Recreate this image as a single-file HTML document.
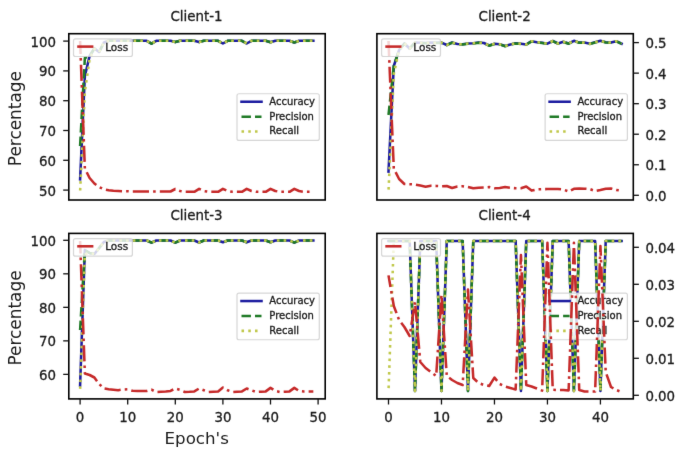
<!DOCTYPE html>
<html><head><meta charset="utf-8"><title>Client metrics</title>
<style>
html,body{margin:0;padding:0;background:#fff;}
body{width:685px;height:454px;overflow:hidden;}
svg{display:block;}
</style></head>
<body>
<svg width="685" height="454" viewBox="0 0 685 454" font-family="'DejaVu Sans', 'Liberation Sans', sans-serif">
<defs>
<filter id="soft" x="0" y="0" width="685" height="454" filterUnits="userSpaceOnUse" color-interpolation-filters="sRGB"><feConvolveMatrix order="3" kernelMatrix="0.00717 0.08466 0.00717 0.08466 1.00000 0.08466 0.00717 0.08466 0.00717" divisor="1.36730" edgeMode="duplicate"/></filter>
<clipPath id="c1"><rect x="68.8" y="33.7" width="256.4" height="166.3"/></clipPath>
<clipPath id="c2"><rect x="376.9" y="33.7" width="256.4" height="166.3"/></clipPath>
<clipPath id="c3"><rect x="68.8" y="233.4" width="256.4" height="165.49999999999997"/></clipPath>
<clipPath id="c4"><rect x="376.9" y="233.4" width="256.4" height="165.49999999999997"/></clipPath>
</defs>
<rect x="0" y="0" width="685" height="454" fill="#ffffff"/>
<g filter="url(#soft)">
<polyline points="80.10,179.30 84.86,76.00 89.62,56.00 94.38,48.50 99.14,52.00 103.90,42.50 108.66,40.80 113.42,40.80 118.18,40.80 122.94,40.80 127.70,40.80 132.46,40.80 137.22,40.80 141.98,40.80 146.74,40.80 151.50,43.70 156.26,40.80 161.02,40.80 165.78,40.80 170.54,40.80 175.30,42.10 180.06,40.80 184.82,40.80 189.58,40.80 194.34,40.80 199.10,42.10 203.86,40.80 208.62,40.80 213.38,40.80 218.14,40.80 222.90,43.50 227.66,40.80 232.42,40.80 237.18,40.80 241.94,40.80 246.70,43.50 251.46,40.80 256.22,40.80 260.98,40.80 265.74,40.80 270.50,42.30 275.26,40.80 280.02,40.80 284.78,40.80 289.54,40.80 294.30,42.50 299.06,40.80 303.82,40.80 308.58,40.80 313.34,40.80" fill="none" stroke="#1c1ca0" stroke-width="2.55" stroke-linejoin="round" stroke-linecap="square" clip-path="url(#c1)"/>
<polyline points="80.10,146.00 84.86,58.00 89.62,56.00 94.38,48.50 99.14,52.00 103.90,42.50 108.66,40.80 113.42,40.80 118.18,40.80 122.94,40.80 127.70,40.80 132.46,40.80 137.22,40.80 141.98,40.80 146.74,40.80 151.50,43.70 156.26,40.80 161.02,40.80 165.78,40.80 170.54,40.80 175.30,42.10 180.06,40.80 184.82,40.80 189.58,40.80 194.34,40.80 199.10,42.10 203.86,40.80 208.62,40.80 213.38,40.80 218.14,40.80 222.90,43.50 227.66,40.80 232.42,40.80 237.18,40.80 241.94,40.80 246.70,43.50 251.46,40.80 256.22,40.80 260.98,40.80 265.74,40.80 270.50,42.30 275.26,40.80 280.02,40.80 284.78,40.80 289.54,40.80 294.30,42.50 299.06,40.80 303.82,40.80 308.58,40.80 313.34,40.80" fill="none" stroke="#1f7a26" stroke-width="2.55" stroke-linejoin="round" stroke-linecap="butt" stroke-dasharray="9.435 4.08" clip-path="url(#c1)"/>
<polyline points="80.10,191.50 84.86,92.00 89.62,59.00 94.38,49.00 99.14,52.00 103.90,42.50 108.66,40.80 113.42,40.80 118.18,40.80 122.94,40.80 127.70,40.80 132.46,40.80 137.22,40.80 141.98,40.80 146.74,40.80 151.50,43.70 156.26,40.80 161.02,40.80 165.78,40.80 170.54,40.80 175.30,42.10 180.06,40.80 184.82,40.80 189.58,40.80 194.34,40.80 199.10,42.10 203.86,40.80 208.62,40.80 213.38,40.80 218.14,40.80 222.90,43.50 227.66,40.80 232.42,40.80 237.18,40.80 241.94,40.80 246.70,43.50 251.46,40.80 256.22,40.80 260.98,40.80 265.74,40.80 270.50,42.30 275.26,40.80 280.02,40.80 284.78,40.80 289.54,40.80 294.30,42.50 299.06,40.80 303.82,40.80 308.58,40.80 313.34,40.80" fill="none" stroke="#c0c84a" stroke-width="2.55" stroke-linejoin="round" stroke-linecap="butt" stroke-dasharray="2.55 4.2075" clip-path="url(#c1)" stroke-dashoffset="5.729"/>
<rect x="237.00" y="93.75" width="82.30" height="46.70" rx="2" ry="2" fill="#ffffff" fill-opacity="0.8" stroke="#cccccc" stroke-opacity="0.8" stroke-width="1.2"/>
<line x1="241.50" y1="101.75" x2="261.50" y2="101.75" stroke="#1c1ca0" stroke-width="2.55" stroke-linecap="square"/>
<line x1="241.50" y1="116.65" x2="261.50" y2="116.65" stroke="#1f7a26" stroke-width="2.55" stroke-dasharray="9.435 4.08"/>
<line x1="241.50" y1="131.55" x2="261.50" y2="131.55" stroke="#c0c84a" stroke-width="2.55" stroke-dasharray="2.55 4.2075"/>
<text x="269.30" y="104.65" font-size="10" text-anchor="start" fill="#1a1a1a" stroke="#1a1a1a" stroke-width="0.3">Accuracy</text>
<text x="269.30" y="119.55" font-size="10" text-anchor="start" fill="#1a1a1a" stroke="#1a1a1a" stroke-width="0.3">Precision</text>
<text x="269.30" y="134.45" font-size="10" text-anchor="start" fill="#1a1a1a" stroke="#1a1a1a" stroke-width="0.3">Recall</text>
<polyline points="80.10,41.00 84.86,168.60 89.62,178.00 94.38,183.50 99.14,187.00 103.90,189.30 108.66,190.30 113.42,190.80 118.18,191.00 122.94,191.20 127.70,191.20 132.46,191.50 137.22,191.50 141.98,191.50 146.74,191.50 151.50,191.50 156.26,191.50 161.02,191.50 165.78,191.50 170.54,191.50 175.30,189.00 180.06,191.00 184.82,191.80 189.58,191.80 194.34,191.80 199.10,188.80 203.86,191.00 208.62,191.80 213.38,191.80 218.14,191.80 222.90,188.80 227.66,191.00 232.42,191.80 237.18,191.80 241.94,191.80 246.70,188.80 251.46,191.00 256.22,191.80 260.98,191.80 265.74,191.80 270.50,188.80 275.26,191.00 280.02,191.80 284.78,191.80 289.54,191.80 294.30,188.80 299.06,191.00 303.82,191.80 308.58,191.80 313.34,191.80" fill="none" stroke="#c62a2a" stroke-width="2.55" stroke-linejoin="round" stroke-linecap="butt" stroke-dasharray="16.2 4.1 2.6 4.1" clip-path="url(#c1)" stroke-dashoffset="3.25"/>
<rect x="73.50" y="38.90" width="58.90" height="17.60" rx="2" ry="2" fill="#ffffff" fill-opacity="0.8" stroke="#cccccc" stroke-opacity="0.8" stroke-width="1.2"/>
<line x1="77.20" y1="46.60" x2="97.20" y2="46.60" stroke="#c62a2a" stroke-width="2.55" stroke-dasharray="16.2 4.1 2.6 4.1"/>
<text x="105.20" y="50.50" font-size="10.5" text-anchor="start" fill="#1a1a1a" stroke="#1a1a1a" stroke-width="0.3">Loss</text>
<rect x="68.80" y="33.70" width="256.40" height="166.30" fill="none" stroke="#000" stroke-width="1.6"/>
<polyline points="388.50,171.60 393.80,66.00 399.10,50.00 404.39,43.50 409.69,48.50 414.99,42.50 420.29,42.80 425.59,43.00 430.88,42.60 436.18,42.80 441.48,42.60 446.78,45.00 452.08,42.50 457.37,44.00 462.67,44.30 467.97,43.50 473.27,43.20 478.57,42.60 483.86,43.00 489.16,45.50 494.46,43.80 499.76,44.20 505.06,46.00 510.35,44.50 515.65,43.20 520.95,43.70 526.25,44.50 531.55,41.20 536.84,42.20 542.14,42.80 547.44,43.70 552.74,41.00 558.04,43.50 563.33,41.80 568.63,43.50 573.93,40.80 579.23,42.60 584.53,42.60 589.82,43.70 595.12,42.30 600.42,40.80 605.72,42.20 611.02,42.60 616.31,41.20 621.61,43.70" fill="none" stroke="#1c1ca0" stroke-width="2.55" stroke-linejoin="round" stroke-linecap="square" clip-path="url(#c2)"/>
<polyline points="388.50,115.00 393.80,66.00 399.10,50.20 404.39,43.70 409.69,48.70 414.99,42.70 420.29,43.00 425.59,43.20 430.88,42.80 436.18,43.00 441.48,42.80 446.78,45.20 452.08,42.70 457.37,44.20 462.67,44.50 467.97,43.70 473.27,43.40 478.57,42.80 483.86,43.20 489.16,45.70 494.46,44.00 499.76,44.40 505.06,46.20 510.35,44.70 515.65,43.40 520.95,43.90 526.25,44.70 531.55,41.40 536.84,42.40 542.14,43.00 547.44,43.90 552.74,41.20 558.04,43.70 563.33,42.00 568.63,43.70 573.93,41.00 579.23,42.80 584.53,42.80 589.82,43.90 595.12,42.50 600.42,41.00 605.72,42.40 611.02,42.80 616.31,41.40 621.61,43.90" fill="none" stroke="#1f7a26" stroke-width="2.55" stroke-linejoin="round" stroke-linecap="butt" stroke-dasharray="9.435 4.08" clip-path="url(#c2)"/>
<polyline points="388.50,191.00 393.80,74.00 399.10,50.00 404.39,43.50 409.69,48.50 414.99,42.50 420.29,42.80 425.59,43.00 430.88,42.60 436.18,42.80 441.48,42.60 446.78,45.00 452.08,42.50 457.37,44.00 462.67,44.30 467.97,43.50 473.27,43.20 478.57,42.60 483.86,43.00 489.16,45.50 494.46,43.80 499.76,44.20 505.06,46.00 510.35,44.50 515.65,43.20 520.95,43.70 526.25,44.50 531.55,41.20 536.84,42.20 542.14,42.80 547.44,43.70 552.74,41.00 558.04,43.50 563.33,41.80 568.63,43.50 573.93,40.80 579.23,42.60 584.53,42.60 589.82,43.70 595.12,42.30 600.42,40.80 605.72,42.20 611.02,42.60 616.31,41.20 621.61,43.70" fill="none" stroke="#c0c84a" stroke-width="2.55" stroke-linejoin="round" stroke-linecap="butt" stroke-dasharray="2.55 4.2075" clip-path="url(#c2)" stroke-dashoffset="5.342"/>
<rect x="545.10" y="93.75" width="82.30" height="46.70" rx="2" ry="2" fill="#ffffff" fill-opacity="0.8" stroke="#cccccc" stroke-opacity="0.8" stroke-width="1.2"/>
<line x1="549.60" y1="101.75" x2="569.60" y2="101.75" stroke="#1c1ca0" stroke-width="2.55" stroke-linecap="square"/>
<line x1="549.60" y1="116.65" x2="569.60" y2="116.65" stroke="#1f7a26" stroke-width="2.55" stroke-dasharray="9.435 4.08"/>
<line x1="549.60" y1="131.55" x2="569.60" y2="131.55" stroke="#c0c84a" stroke-width="2.55" stroke-dasharray="2.55 4.2075"/>
<text x="577.40" y="104.65" font-size="10" text-anchor="start" fill="#1a1a1a" stroke="#1a1a1a" stroke-width="0.3">Accuracy</text>
<text x="577.40" y="119.55" font-size="10" text-anchor="start" fill="#1a1a1a" stroke="#1a1a1a" stroke-width="0.3">Precision</text>
<text x="577.40" y="134.45" font-size="10" text-anchor="start" fill="#1a1a1a" stroke="#1a1a1a" stroke-width="0.3">Recall</text>
<polyline points="388.50,41.00 393.80,168.70 399.10,179.00 404.39,184.00 409.69,184.20 414.99,184.50 420.29,185.50 425.59,186.70 430.88,185.70 436.18,185.90 441.48,186.20 446.78,186.00 452.08,188.00 457.37,186.50 462.67,186.20 467.97,187.00 473.27,188.30 478.57,187.70 483.86,187.50 489.16,187.10 494.46,188.30 499.76,188.00 505.06,187.10 510.35,187.80 515.65,188.30 520.95,188.30 526.25,186.50 531.55,190.60 536.84,189.40 542.14,189.20 547.44,189.10 552.74,189.00 558.04,189.10 563.33,189.50 568.63,191.50 573.93,188.80 579.23,188.50 584.53,188.70 589.82,189.10 595.12,191.00 600.42,190.00 605.72,188.70 611.02,188.50 616.31,190.00 621.61,190.50" fill="none" stroke="#c62a2a" stroke-width="2.55" stroke-linejoin="round" stroke-linecap="butt" stroke-dasharray="15.9 4 2.6 4" clip-path="url(#c2)" stroke-dashoffset="0.75"/>
<rect x="381.60" y="38.90" width="58.90" height="17.60" rx="2" ry="2" fill="#ffffff" fill-opacity="0.8" stroke="#cccccc" stroke-opacity="0.8" stroke-width="1.2"/>
<line x1="385.30" y1="46.60" x2="405.30" y2="46.60" stroke="#c62a2a" stroke-width="2.55" stroke-dasharray="16.2 4.1 2.6 4.1"/>
<text x="413.30" y="50.50" font-size="10.5" text-anchor="start" fill="#1a1a1a" stroke="#1a1a1a" stroke-width="0.3">Loss</text>
<rect x="376.90" y="33.70" width="256.40" height="166.30" fill="none" stroke="#000" stroke-width="1.6"/>
<polyline points="80.10,385.40 84.86,250.00 89.62,253.00 94.38,254.00 99.14,248.00 103.90,242.00 108.66,240.50 113.42,240.50 118.18,240.50 122.94,240.50 127.70,240.50 132.46,240.50 137.22,240.50 141.98,240.50 146.74,240.50 151.50,242.70 156.26,240.50 161.02,240.50 165.78,240.50 170.54,240.50 175.30,242.70 180.06,240.50 184.82,240.50 189.58,240.50 194.34,240.50 199.10,242.50 203.86,240.50 208.62,240.50 213.38,240.50 218.14,240.50 222.90,242.30 227.66,240.50 232.42,240.50 237.18,240.50 241.94,240.50 246.70,242.20 251.46,240.50 256.22,240.50 260.98,240.50 265.74,240.50 270.50,242.30 275.26,240.50 280.02,240.50 284.78,240.50 289.54,240.50 294.30,242.60 299.06,240.50 303.82,240.50 308.58,240.50 313.34,240.50" fill="none" stroke="#1c1ca0" stroke-width="2.55" stroke-linejoin="round" stroke-linecap="square" clip-path="url(#c3)"/>
<polyline points="80.10,330.00 84.86,250.00 89.62,253.00 94.38,254.00 99.14,248.00 103.90,242.00 108.66,240.50 113.42,240.50 118.18,240.50 122.94,240.50 127.70,240.50 132.46,240.50 137.22,240.50 141.98,240.50 146.74,240.50 151.50,242.70 156.26,240.50 161.02,240.50 165.78,240.50 170.54,240.50 175.30,242.70 180.06,240.50 184.82,240.50 189.58,240.50 194.34,240.50 199.10,242.50 203.86,240.50 208.62,240.50 213.38,240.50 218.14,240.50 222.90,242.30 227.66,240.50 232.42,240.50 237.18,240.50 241.94,240.50 246.70,242.20 251.46,240.50 256.22,240.50 260.98,240.50 265.74,240.50 270.50,242.30 275.26,240.50 280.02,240.50 284.78,240.50 289.54,240.50 294.30,242.60 299.06,240.50 303.82,240.50 308.58,240.50 313.34,240.50" fill="none" stroke="#1f7a26" stroke-width="2.55" stroke-linejoin="round" stroke-linecap="butt" stroke-dasharray="9.435 4.08" clip-path="url(#c3)"/>
<polyline points="80.10,390.40 84.86,254.00 89.62,253.00 94.38,254.00 99.14,248.00 103.90,242.00 108.66,240.50 113.42,240.50 118.18,240.50 122.94,240.50 127.70,240.50 132.46,240.50 137.22,240.50 141.98,240.50 146.74,240.50 151.50,242.70 156.26,240.50 161.02,240.50 165.78,240.50 170.54,240.50 175.30,242.70 180.06,240.50 184.82,240.50 189.58,240.50 194.34,240.50 199.10,242.50 203.86,240.50 208.62,240.50 213.38,240.50 218.14,240.50 222.90,242.30 227.66,240.50 232.42,240.50 237.18,240.50 241.94,240.50 246.70,242.20 251.46,240.50 256.22,240.50 260.98,240.50 265.74,240.50 270.50,242.30 275.26,240.50 280.02,240.50 284.78,240.50 289.54,240.50 294.30,242.60 299.06,240.50 303.82,240.50 308.58,240.50 313.34,240.50" fill="none" stroke="#c0c84a" stroke-width="2.55" stroke-linejoin="round" stroke-linecap="butt" stroke-dasharray="2.55 4.2075" clip-path="url(#c3)" stroke-dashoffset="5.239"/>
<rect x="237.00" y="293.05" width="82.30" height="46.70" rx="2" ry="2" fill="#ffffff" fill-opacity="0.8" stroke="#cccccc" stroke-opacity="0.8" stroke-width="1.2"/>
<line x1="241.50" y1="301.05" x2="261.50" y2="301.05" stroke="#1c1ca0" stroke-width="2.55" stroke-linecap="square"/>
<line x1="241.50" y1="315.95" x2="261.50" y2="315.95" stroke="#1f7a26" stroke-width="2.55" stroke-dasharray="9.435 4.08"/>
<line x1="241.50" y1="330.85" x2="261.50" y2="330.85" stroke="#c0c84a" stroke-width="2.55" stroke-dasharray="2.55 4.2075"/>
<text x="269.30" y="303.95" font-size="10" text-anchor="start" fill="#1a1a1a" stroke="#1a1a1a" stroke-width="0.3">Accuracy</text>
<text x="269.30" y="318.85" font-size="10" text-anchor="start" fill="#1a1a1a" stroke="#1a1a1a" stroke-width="0.3">Precision</text>
<text x="269.30" y="333.75" font-size="10" text-anchor="start" fill="#1a1a1a" stroke="#1a1a1a" stroke-width="0.3">Recall</text>
<polyline points="80.10,241.00 84.86,373.50 89.62,375.00 94.38,377.50 99.14,384.00 103.90,388.50 108.66,389.30 113.42,389.80 118.18,390.20 122.94,389.50 127.70,389.30 132.46,390.80 137.22,390.90 141.98,391.00 146.74,391.00 151.50,389.70 156.26,392.00 161.02,391.80 165.78,391.50 170.54,390.90 175.30,388.50 180.06,389.90 184.82,392.00 189.58,391.80 194.34,391.40 199.10,388.50 203.86,390.30 208.62,392.00 213.38,391.70 218.14,391.40 222.90,387.50 227.66,390.30 232.42,392.00 237.18,391.70 241.94,391.40 246.70,388.50 251.46,390.30 256.22,392.00 260.98,391.70 265.74,391.40 270.50,387.90 275.26,390.90 280.02,392.00 284.78,391.70 289.54,391.40 294.30,387.90 299.06,390.90 303.82,391.40 308.58,391.40 313.34,391.40" fill="none" stroke="#c62a2a" stroke-width="2.55" stroke-linejoin="round" stroke-linecap="butt" stroke-dasharray="16.2 4.1 2.6 4.1" clip-path="url(#c3)" stroke-dashoffset="3.75"/>
<rect x="73.50" y="238.60" width="58.90" height="17.60" rx="2" ry="2" fill="#ffffff" fill-opacity="0.8" stroke="#cccccc" stroke-opacity="0.8" stroke-width="1.2"/>
<line x1="77.20" y1="246.30" x2="97.20" y2="246.30" stroke="#c62a2a" stroke-width="2.55" stroke-dasharray="16.2 4.1 2.6 4.1"/>
<text x="105.20" y="250.20" font-size="10.5" text-anchor="start" fill="#1a1a1a" stroke="#1a1a1a" stroke-width="0.3">Loss</text>
<rect x="68.80" y="233.40" width="256.40" height="165.50" fill="none" stroke="#000" stroke-width="1.6"/>
<polyline points="388.50,241.00 393.80,241.00 399.10,241.00 404.39,241.00 409.69,241.00 414.99,391.00 420.29,241.00 425.59,241.00 430.88,241.00 436.18,241.00 441.48,391.00 446.78,241.00 452.08,241.00 457.37,241.00 462.67,241.00 467.97,391.00 473.27,241.00 478.57,241.00 483.86,241.00 489.16,241.00 494.46,241.00 499.76,241.00 505.06,241.00 510.35,241.00 515.65,241.00 520.95,391.00 526.25,241.00 531.55,241.00 536.84,241.00 542.14,241.00 547.44,391.00 552.74,241.00 558.04,241.00 563.33,241.00 568.63,241.00 573.93,391.00 579.23,241.00 584.53,241.00 589.82,241.00 595.12,241.00 600.42,391.00 605.72,241.00 611.02,241.00 616.31,241.00 621.61,241.00" fill="none" stroke="#1c1ca0" stroke-width="2.55" stroke-linejoin="round" stroke-linecap="square" clip-path="url(#c4)"/>
<polyline points="388.50,241.00 393.80,241.00 399.10,241.00 404.39,241.00 409.69,241.00 414.99,391.00 420.29,241.00 425.59,241.00 430.88,241.00 436.18,241.00 441.48,391.00 446.78,241.00 452.08,241.00 457.37,241.00 462.67,241.00 467.97,391.00 473.27,241.00 478.57,241.00 483.86,241.00 489.16,241.00 494.46,241.00 499.76,241.00 505.06,241.00 510.35,241.00 515.65,241.00 520.95,391.00 526.25,241.00 531.55,241.00 536.84,241.00 542.14,241.00 547.44,391.00 552.74,241.00 558.04,241.00 563.33,241.00 568.63,241.00 573.93,391.00 579.23,241.00 584.53,241.00 589.82,241.00 595.12,241.00 600.42,391.00 605.72,241.00 611.02,241.00 616.31,241.00 621.61,241.00" fill="none" stroke="#1f7a26" stroke-width="2.55" stroke-linejoin="round" stroke-linecap="butt" stroke-dasharray="9.435 4.08" clip-path="url(#c4)"/>
<polyline points="388.50,391.00 393.80,241.00 399.10,241.00 404.39,241.00 409.69,241.00 414.99,391.00 420.29,241.00 425.59,241.00 430.88,241.00 436.18,241.00 441.48,391.00 446.78,241.00 452.08,241.00 457.37,241.00 462.67,241.00 467.97,391.00 473.27,241.00 478.57,241.00 483.86,241.00 489.16,241.00 494.46,241.00 499.76,241.00 505.06,241.00 510.35,241.00 515.65,241.00 520.95,391.00 526.25,241.00 531.55,241.00 536.84,241.00 542.14,241.00 547.44,391.00 552.74,241.00 558.04,241.00 563.33,241.00 568.63,241.00 573.93,391.00 579.23,241.00 584.53,241.00 589.82,241.00 595.12,241.00 600.42,391.00 605.72,241.00 611.02,241.00 616.31,241.00 621.61,241.00" fill="none" stroke="#c0c84a" stroke-width="2.55" stroke-linejoin="round" stroke-linecap="butt" stroke-dasharray="2.55 4.2075" clip-path="url(#c4)" stroke-dashoffset="3.869"/>
<rect x="545.10" y="293.05" width="82.30" height="46.70" rx="2" ry="2" fill="#ffffff" fill-opacity="0.8" stroke="#cccccc" stroke-opacity="0.8" stroke-width="1.2"/>
<line x1="549.60" y1="301.05" x2="569.60" y2="301.05" stroke="#1c1ca0" stroke-width="2.55" stroke-linecap="square"/>
<line x1="549.60" y1="315.95" x2="569.60" y2="315.95" stroke="#1f7a26" stroke-width="2.55" stroke-dasharray="9.435 4.08"/>
<line x1="549.60" y1="330.85" x2="569.60" y2="330.85" stroke="#c0c84a" stroke-width="2.55" stroke-dasharray="2.55 4.2075"/>
<text x="577.40" y="303.95" font-size="10" text-anchor="start" fill="#1a1a1a" stroke="#1a1a1a" stroke-width="0.3">Accuracy</text>
<text x="577.40" y="318.85" font-size="10" text-anchor="start" fill="#1a1a1a" stroke="#1a1a1a" stroke-width="0.3">Precision</text>
<text x="577.40" y="333.75" font-size="10" text-anchor="start" fill="#1a1a1a" stroke="#1a1a1a" stroke-width="0.3">Recall</text>
<polyline points="388.50,275.40 393.80,306.00 399.10,320.00 404.39,327.00 409.69,336.00 414.99,302.00 420.29,362.00 425.59,368.00 430.88,372.00 436.18,376.00 441.48,295.00 446.78,376.00 452.08,380.00 457.37,383.00 462.67,385.00 467.97,289.50 473.27,378.00 478.57,383.00 483.86,385.00 489.16,386.00 494.46,377.60 499.76,384.00 505.06,386.50 510.35,388.00 515.65,389.50 520.95,255.00 526.25,385.00 531.55,386.50 536.84,388.50 542.14,390.60 547.44,242.80 552.74,389.80 558.04,390.00 563.33,390.00 568.63,390.50 573.93,242.80 579.23,390.00 584.53,391.50 589.82,391.50 595.12,391.50 600.42,246.00 605.72,372.00 611.02,387.00 616.31,390.00 621.61,392.00" fill="none" stroke="#c62a2a" stroke-width="2.55" stroke-linejoin="round" stroke-linecap="butt" stroke-dasharray="16.2 4.1 2.6 4.1" clip-path="url(#c4)" stroke-dashoffset="4.5"/>
<rect x="381.60" y="238.60" width="58.90" height="17.60" rx="2" ry="2" fill="#ffffff" fill-opacity="0.8" stroke="#cccccc" stroke-opacity="0.8" stroke-width="1.2"/>
<line x1="385.30" y1="246.30" x2="405.30" y2="246.30" stroke="#c62a2a" stroke-width="2.55" stroke-dasharray="16.2 4.1 2.6 4.1"/>
<text x="413.30" y="250.20" font-size="10.5" text-anchor="start" fill="#1a1a1a" stroke="#1a1a1a" stroke-width="0.3">Loss</text>
<rect x="376.90" y="233.40" width="256.40" height="165.50" fill="none" stroke="#000" stroke-width="1.6"/>
<line x1="63.20" y1="41.10" x2="68.80" y2="41.10" stroke="#111" stroke-width="1.3"/>
<text x="55.95" y="46.55" font-size="13.35" text-anchor="end" fill="#1a1a1a" stroke="#1a1a1a" stroke-width="0.3">100</text>
<line x1="63.20" y1="70.90" x2="68.80" y2="70.90" stroke="#111" stroke-width="1.3"/>
<text x="55.95" y="76.35" font-size="13.35" text-anchor="end" fill="#1a1a1a" stroke="#1a1a1a" stroke-width="0.3">90</text>
<line x1="63.20" y1="100.70" x2="68.80" y2="100.70" stroke="#111" stroke-width="1.3"/>
<text x="55.95" y="106.15" font-size="13.35" text-anchor="end" fill="#1a1a1a" stroke="#1a1a1a" stroke-width="0.3">80</text>
<line x1="63.20" y1="130.50" x2="68.80" y2="130.50" stroke="#111" stroke-width="1.3"/>
<text x="55.95" y="135.95" font-size="13.35" text-anchor="end" fill="#1a1a1a" stroke="#1a1a1a" stroke-width="0.3">70</text>
<line x1="63.20" y1="160.30" x2="68.80" y2="160.30" stroke="#111" stroke-width="1.3"/>
<text x="55.95" y="165.75" font-size="13.35" text-anchor="end" fill="#1a1a1a" stroke="#1a1a1a" stroke-width="0.3">60</text>
<line x1="63.20" y1="190.10" x2="68.80" y2="190.10" stroke="#111" stroke-width="1.3"/>
<text x="55.95" y="195.55" font-size="13.35" text-anchor="end" fill="#1a1a1a" stroke="#1a1a1a" stroke-width="0.3">50</text>
<line x1="63.20" y1="240.30" x2="68.80" y2="240.30" stroke="#111" stroke-width="1.3"/>
<text x="55.95" y="245.75" font-size="13.35" text-anchor="end" fill="#1a1a1a" stroke="#1a1a1a" stroke-width="0.3">100</text>
<line x1="63.20" y1="273.82" x2="68.80" y2="273.82" stroke="#111" stroke-width="1.3"/>
<text x="55.95" y="279.27" font-size="13.35" text-anchor="end" fill="#1a1a1a" stroke="#1a1a1a" stroke-width="0.3">90</text>
<line x1="63.20" y1="307.34" x2="68.80" y2="307.34" stroke="#111" stroke-width="1.3"/>
<text x="55.95" y="312.79" font-size="13.35" text-anchor="end" fill="#1a1a1a" stroke="#1a1a1a" stroke-width="0.3">80</text>
<line x1="63.20" y1="340.86" x2="68.80" y2="340.86" stroke="#111" stroke-width="1.3"/>
<text x="55.95" y="346.31" font-size="13.35" text-anchor="end" fill="#1a1a1a" stroke="#1a1a1a" stroke-width="0.3">70</text>
<line x1="63.20" y1="374.38" x2="68.80" y2="374.38" stroke="#111" stroke-width="1.3"/>
<text x="55.95" y="379.83" font-size="13.35" text-anchor="end" fill="#1a1a1a" stroke="#1a1a1a" stroke-width="0.3">60</text>
<line x1="633.30" y1="195.30" x2="638.90" y2="195.30" stroke="#111" stroke-width="1.3"/>
<text x="645.40" y="200.70" font-size="13.35" text-anchor="start" fill="#1a1a1a" stroke="#1a1a1a" stroke-width="0.3">0.0</text>
<line x1="633.30" y1="164.76" x2="638.90" y2="164.76" stroke="#111" stroke-width="1.3"/>
<text x="645.40" y="170.16" font-size="13.35" text-anchor="start" fill="#1a1a1a" stroke="#1a1a1a" stroke-width="0.3">0.1</text>
<line x1="633.30" y1="134.22" x2="638.90" y2="134.22" stroke="#111" stroke-width="1.3"/>
<text x="645.40" y="139.62" font-size="13.35" text-anchor="start" fill="#1a1a1a" stroke="#1a1a1a" stroke-width="0.3">0.2</text>
<line x1="633.30" y1="103.68" x2="638.90" y2="103.68" stroke="#111" stroke-width="1.3"/>
<text x="645.40" y="109.08" font-size="13.35" text-anchor="start" fill="#1a1a1a" stroke="#1a1a1a" stroke-width="0.3">0.3</text>
<line x1="633.30" y1="73.14" x2="638.90" y2="73.14" stroke="#111" stroke-width="1.3"/>
<text x="645.40" y="78.54" font-size="13.35" text-anchor="start" fill="#1a1a1a" stroke="#1a1a1a" stroke-width="0.3">0.4</text>
<line x1="633.30" y1="42.60" x2="638.90" y2="42.60" stroke="#111" stroke-width="1.3"/>
<text x="645.40" y="48.00" font-size="13.35" text-anchor="start" fill="#1a1a1a" stroke="#1a1a1a" stroke-width="0.3">0.5</text>
<line x1="633.30" y1="395.30" x2="638.90" y2="395.30" stroke="#111" stroke-width="1.3"/>
<text x="645.40" y="400.70" font-size="13.35" text-anchor="start" fill="#1a1a1a" stroke="#1a1a1a" stroke-width="0.3">0.00</text>
<line x1="633.30" y1="358.30" x2="638.90" y2="358.30" stroke="#111" stroke-width="1.3"/>
<text x="645.40" y="363.70" font-size="13.35" text-anchor="start" fill="#1a1a1a" stroke="#1a1a1a" stroke-width="0.3">0.01</text>
<line x1="633.30" y1="321.30" x2="638.90" y2="321.30" stroke="#111" stroke-width="1.3"/>
<text x="645.40" y="326.70" font-size="13.35" text-anchor="start" fill="#1a1a1a" stroke="#1a1a1a" stroke-width="0.3">0.02</text>
<line x1="633.30" y1="284.30" x2="638.90" y2="284.30" stroke="#111" stroke-width="1.3"/>
<text x="645.40" y="289.70" font-size="13.35" text-anchor="start" fill="#1a1a1a" stroke="#1a1a1a" stroke-width="0.3">0.03</text>
<line x1="633.30" y1="247.30" x2="638.90" y2="247.30" stroke="#111" stroke-width="1.3"/>
<text x="645.40" y="252.70" font-size="13.35" text-anchor="start" fill="#1a1a1a" stroke="#1a1a1a" stroke-width="0.3">0.04</text>
<line x1="80.10" y1="398.90" x2="80.10" y2="404.50" stroke="#111" stroke-width="1.3"/>
<text x="80.10" y="421.60" font-size="13.35" text-anchor="middle" fill="#1a1a1a" stroke="#1a1a1a" stroke-width="0.3">0</text>
<line x1="127.70" y1="398.90" x2="127.70" y2="404.50" stroke="#111" stroke-width="1.3"/>
<text x="127.70" y="421.60" font-size="13.35" text-anchor="middle" fill="#1a1a1a" stroke="#1a1a1a" stroke-width="0.3">10</text>
<line x1="175.30" y1="398.90" x2="175.30" y2="404.50" stroke="#111" stroke-width="1.3"/>
<text x="175.30" y="421.60" font-size="13.35" text-anchor="middle" fill="#1a1a1a" stroke="#1a1a1a" stroke-width="0.3">20</text>
<line x1="222.90" y1="398.90" x2="222.90" y2="404.50" stroke="#111" stroke-width="1.3"/>
<text x="222.90" y="421.60" font-size="13.35" text-anchor="middle" fill="#1a1a1a" stroke="#1a1a1a" stroke-width="0.3">30</text>
<line x1="270.50" y1="398.90" x2="270.50" y2="404.50" stroke="#111" stroke-width="1.3"/>
<text x="270.50" y="421.60" font-size="13.35" text-anchor="middle" fill="#1a1a1a" stroke="#1a1a1a" stroke-width="0.3">40</text>
<line x1="318.10" y1="398.90" x2="318.10" y2="404.50" stroke="#111" stroke-width="1.3"/>
<text x="318.10" y="421.60" font-size="13.35" text-anchor="middle" fill="#1a1a1a" stroke="#1a1a1a" stroke-width="0.3">50</text>
<line x1="388.50" y1="398.90" x2="388.50" y2="404.50" stroke="#111" stroke-width="1.3"/>
<text x="388.50" y="421.60" font-size="13.35" text-anchor="middle" fill="#1a1a1a" stroke="#1a1a1a" stroke-width="0.3">0</text>
<line x1="441.48" y1="398.90" x2="441.48" y2="404.50" stroke="#111" stroke-width="1.3"/>
<text x="441.48" y="421.60" font-size="13.35" text-anchor="middle" fill="#1a1a1a" stroke="#1a1a1a" stroke-width="0.3">10</text>
<line x1="494.46" y1="398.90" x2="494.46" y2="404.50" stroke="#111" stroke-width="1.3"/>
<text x="494.46" y="421.60" font-size="13.35" text-anchor="middle" fill="#1a1a1a" stroke="#1a1a1a" stroke-width="0.3">20</text>
<line x1="547.44" y1="398.90" x2="547.44" y2="404.50" stroke="#111" stroke-width="1.3"/>
<text x="547.44" y="421.60" font-size="13.35" text-anchor="middle" fill="#1a1a1a" stroke="#1a1a1a" stroke-width="0.3">30</text>
<line x1="600.42" y1="398.90" x2="600.42" y2="404.50" stroke="#111" stroke-width="1.3"/>
<text x="600.42" y="421.60" font-size="13.35" text-anchor="middle" fill="#1a1a1a" stroke="#1a1a1a" stroke-width="0.3">40</text>
<text x="196.50" y="20.50" font-size="13.4" text-anchor="middle" fill="#1a1a1a" stroke="#1a1a1a" stroke-width="0.3">Client-1</text>
<text x="504.60" y="20.50" font-size="13.4" text-anchor="middle" fill="#1a1a1a" stroke="#1a1a1a" stroke-width="0.3">Client-2</text>
<text x="196.50" y="220.20" font-size="13.4" text-anchor="middle" fill="#1a1a1a" stroke="#1a1a1a" stroke-width="0.3">Client-3</text>
<text x="504.60" y="220.20" font-size="13.4" text-anchor="middle" fill="#1a1a1a" stroke="#1a1a1a" stroke-width="0.3">Client-4</text>
<text x="21.40" y="118.65" font-size="16.9" text-anchor="middle" fill="#1a1a1a" transform="rotate(-90 21.40 118.65)">Percentage</text>
<text x="21.40" y="317.95" font-size="16.9" text-anchor="middle" fill="#1a1a1a" transform="rotate(-90 21.40 317.95)">Percentage</text>
<text x="196.70" y="443.80" font-size="16.67" text-anchor="middle" fill="#1a1a1a">Epoch&#39;s</text>
</g>
</svg>
</body></html>
